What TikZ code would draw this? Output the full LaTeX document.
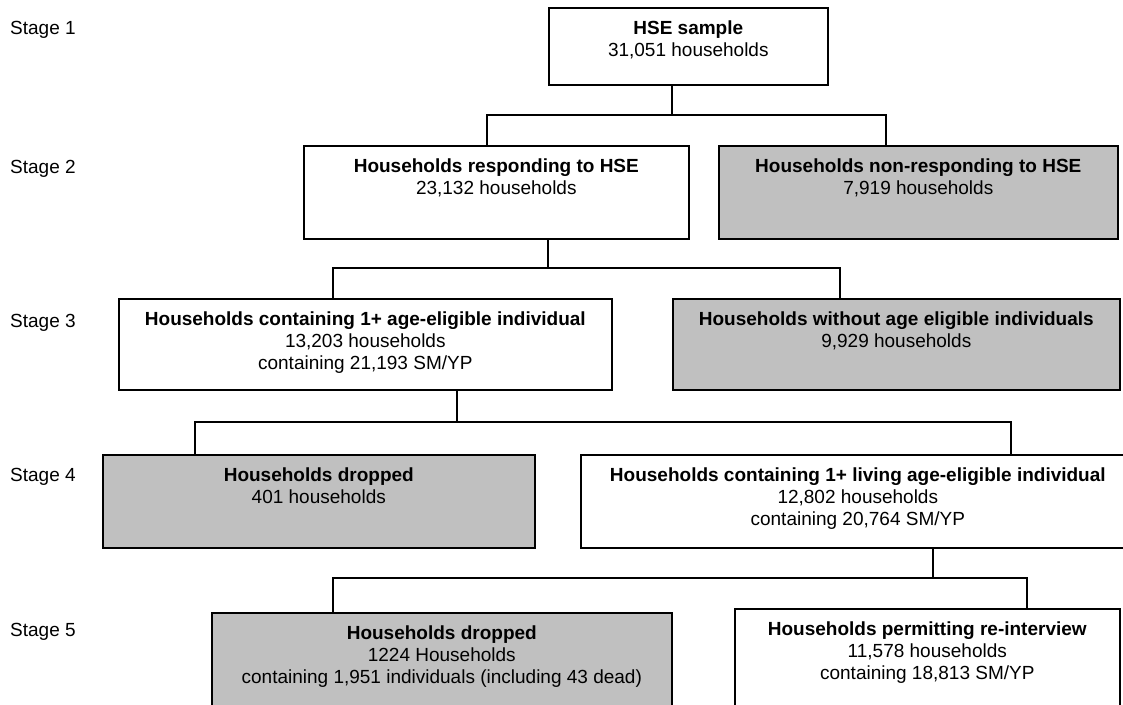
\documentclass[tikz,border=0pt]{standalone}
\usepackage{fontspec}
\setmainfont{Liberation Sans}
\definecolor{dropgrey}{HTML}{C0C0C0}
\newcommand{\boxtxt}[3]{\parbox[c][#2][t]{#1}{\centering\vspace*{13pt}#3}}
\begin{document}
\begin{tikzpicture}[x=1pt, y=-1pt, font=\fontsize{19}{22}\selectfont,
		stagebox/.style = {draw, line width=1.6pt, inner sep=0pt, anchor=north west, fill=white},
		dropbox/.style = {stagebox, fill=dropgrey},
		stagelbl/.style = {anchor=base west, inner sep=0pt},
		conn/.style = {line width=1.3pt}]
		\useasboundingbox (0,0) rectangle (1123,704);
		\clip (0,0) rectangle (1123,704);
		\node[stagelbl] (st1) at (10,34) {Stage 1};
		\node[stagelbl] (st2) at (10,173) {Stage 2};
		\node[stagelbl] (st3) at (10,327) {Stage 3};
		\node[stagelbl] (st4) at (10,481) {Stage 4};
		\node[stagelbl] (st5) at (10,636) {Stage 5};
		\node[stagebox] (hse) at (548,7) {\boxtxt{279pt}{77pt}{\textbf{HSE sample}\\31,051 households}};
		\node[stagebox] (resp) at (303,145) {\boxtxt{385pt}{93pt}{\textbf{Households responding to HSE}\\23,132 households}};
		\node[dropbox] (nonresp) at (718,145) {\boxtxt{399pt}{93pt}{\textbf{Households non-responding to HSE}\\7,919 households}};
		\node[stagebox] (elig) at (118,298) {\boxtxt{493pt}{91pt}{\textbf{Households containing 1+ age-eligible individual}\\13,203 households\\containing 21,193 SM/YP}};
		\node[dropbox] (noelig) at (672,298) {\boxtxt{447pt}{91pt}{\textbf{Households without age eligible individuals}\\9,929 households}};
		\node[dropbox] (drop1) at (102,454) {\boxtxt{432pt}{93pt}{\textbf{Households dropped}\\401 households}};
		\node[stagebox] (living) at (580,454) {\boxtxt{554pt}{93pt}{\textbf{Households containing 1+ living age-eligible individual}\\12,802 households\\containing 20,764 SM/YP}};
		\node[dropbox] (drop2) at (211,612) {\boxtxt{460pt}{110pt}{\textbf{Households dropped}\\1224 Households\\containing 1,951 individuals (including 43 dead)}};
		\node[stagebox] (reint) at (734,608) {\boxtxt{385pt}{114pt}{\textbf{Households permitting re-interview}\\11,578 households\\containing 18,813 SM/YP}};
		\coordinate (j1) at (672,115);
		\coordinate (j1l) at (487,115);
		\coordinate (j1r) at (886,115);
		\coordinate (j2) at (548,268);
		\coordinate (j2l) at (333,268);
		\coordinate (j2r) at (840,268);
		\coordinate (j3) at (457,422);
		\coordinate (j3l) at (195,422);
		\coordinate (j3r) at (1011,422);
		\coordinate (j4) at (933,578);
		\coordinate (j4l) at (333,578);
		\coordinate (j4r) at (1027,578);
		\draw[conn] (hse.south -| j1) -- (j1);
		\draw[conn] (resp.north -| j1l) -- (j1l) -- (j1r) -- (nonresp.north -| j1r);
		\draw[conn] (resp.south -| j2) -- (j2);
		\draw[conn] (elig.north -| j2l) -- (j2l) -- (j2r) -- (noelig.north -| j2r);
		\draw[conn] (elig.south -| j3) -- (j3);
		\draw[conn] (drop1.north -| j3l) -- (j3l) -- (j3r) -- (living.north -| j3r);
		\draw[conn] (living.south -| j4) -- (j4);
		\draw[conn] (drop2.north -| j4l) -- (j4l) -- (j4r) -- (reint.north -| j4r);
	\end{tikzpicture}
\end{document}
